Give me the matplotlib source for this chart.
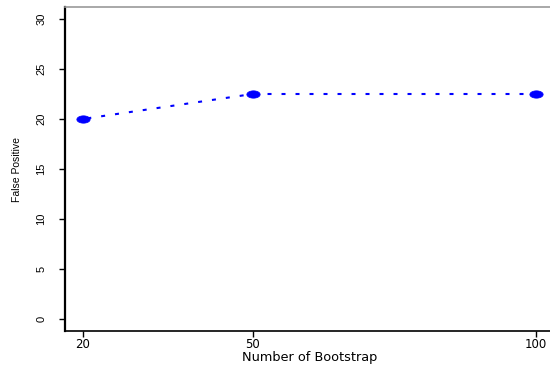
import matplotlib
matplotlib.use("Agg")
import matplotlib.pyplot as plt
import numpy as np
from matplotlib.path import Path

# data
bootstrap = [20, 50, 100]
false_positive = [20.0, 22.5, 22.5]
x_ticks = [20, 50, 100]
y_ticks = [0, 5, 10, 15, 20, 25, 30]

fig = plt.figure(figsize=(5.5, 3.67), dpi=100)
ax = fig.add_axes([64.6 / 550, 36 / 367, (554 - 64.6) / 550, (331 - 7) / 367])

# ellipse marker (wider than tall)
t = np.linspace(0, 2 * np.pi, 60)
ell = Path(np.column_stack([np.cos(t), 0.55 * np.sin(t)]), closed=True)

lw = 1.5
ax.plot(bootstrap, false_positive, color="#0000ff", linewidth=lw,
        linestyle=(4.5, (1.92, 4.8)), dash_capstyle="butt",
        marker=ell, markersize=9.6, markerfacecolor="#0000ff",
        markeredgecolor="#0000ff", markeredgewidth=0.5)

ax.set_xlim(16.8, 103.2)
ax.set_ylim(-1.2, 31.2)

ax.set_xticks(x_ticks)
ax.set_xticklabels([str(v) for v in x_ticks], family="DejaVu Sans", fontsize=8.5)
ax.set_yticks(y_ticks)
ax.set_yticklabels([str(v) for v in y_ticks], rotation=90, va="center",
                   family="Liberation Sans", fontsize=8)

ax.tick_params(axis="x", length=4.3, width=1, color="black", pad=1)
ax.tick_params(axis="y", length=4.3, width=1, color="black", pad=9)

ax.spines["left"].set_linewidth(1.6)
ax.spines["left"].set_color("black")
ax.spines["bottom"].set_linewidth(1.2)
ax.spines["bottom"].set_color("black")
ax.spines["top"].set_linewidth(1.2)
ax.spines["top"].set_color("#999999")
ax.spines["right"].set_visible(False)

ax.set_xlabel("Number of Bootstrap", family="DejaVu Sans", fontsize=9.3)
ax.xaxis.set_label_coords(0.5, -0.062)
ax.set_ylabel("False Positive", family="Liberation Sans", fontsize=7.5)
ax.yaxis.set_label_coords(-(64.6 - 22) / (554 - 64.6), 0.5)

fig.savefig("out.png", dpi=100)
